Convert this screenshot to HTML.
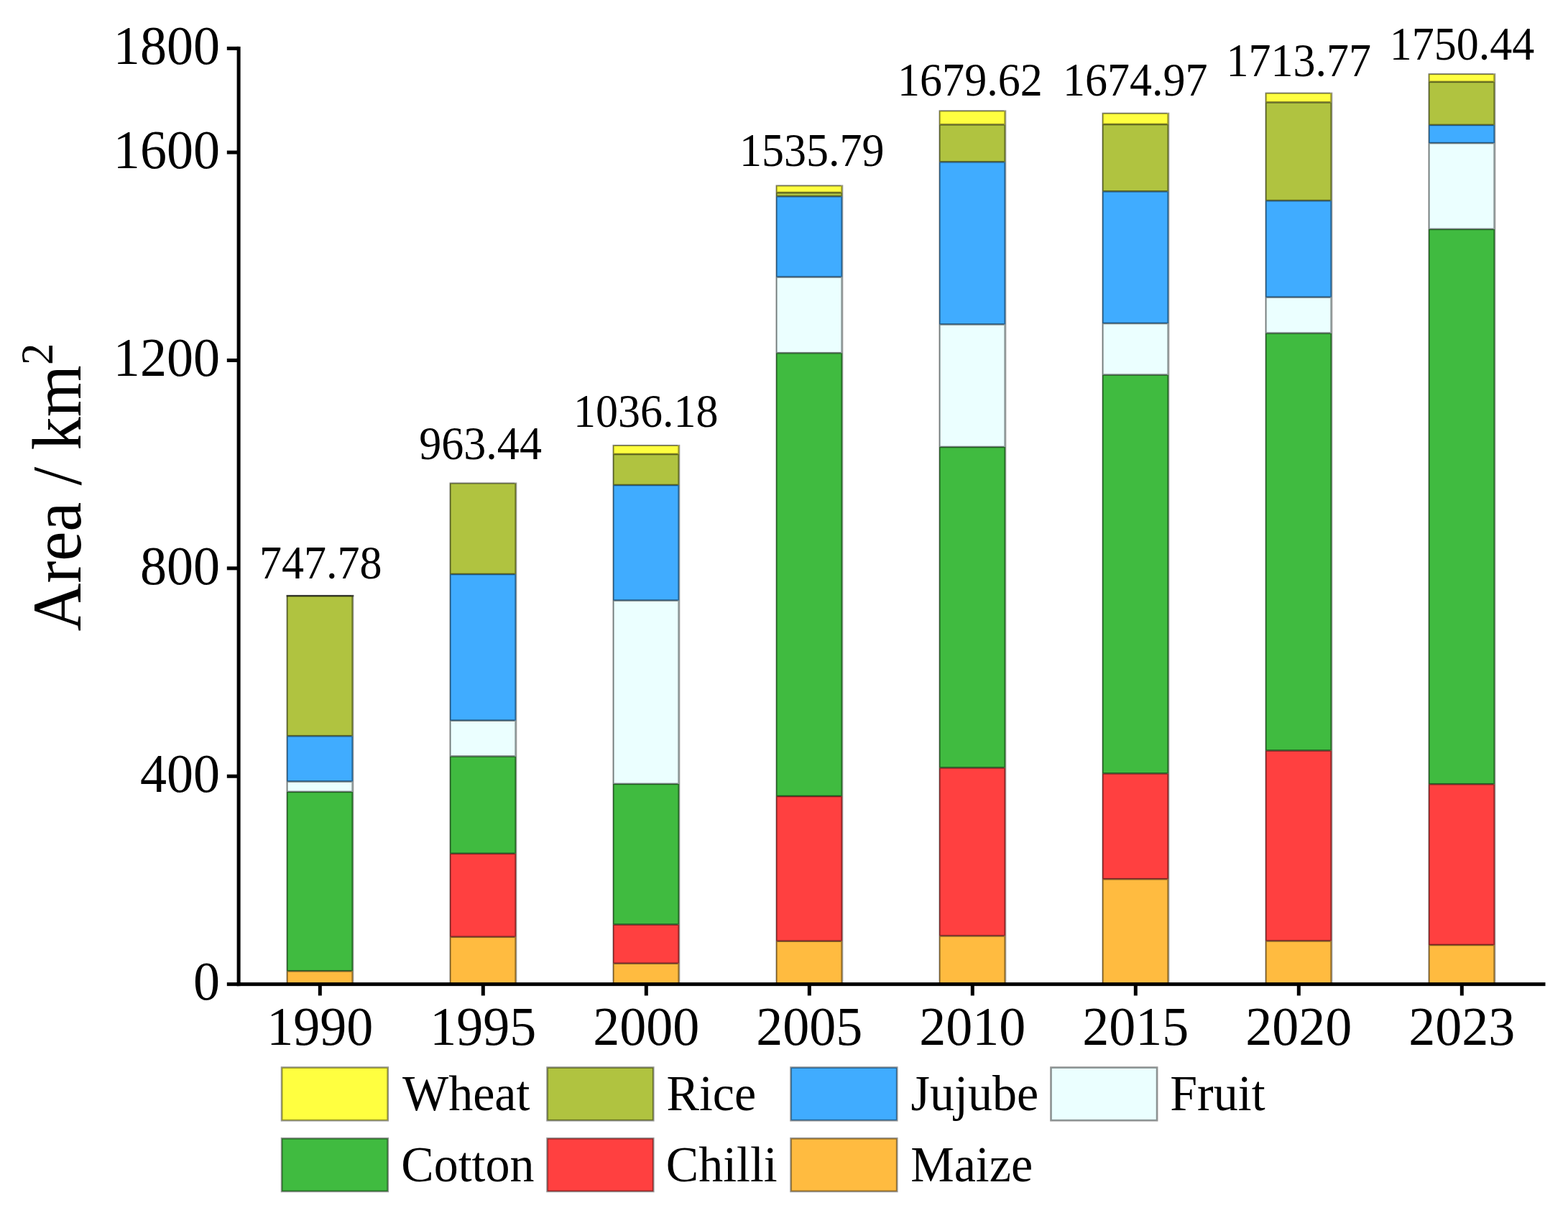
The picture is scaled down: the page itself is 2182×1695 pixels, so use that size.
<!DOCTYPE html>
<html lang="en"><head><meta charset="utf-8"><title>Area / km2 stacked bar chart</title>
<style>html,body{margin:0;padding:0;background:#fff}body{width:2182px;height:1695px;overflow:hidden}svg{display:block}text{font-family:"Liberation Serif",serif;fill:#000}</style>
</head><body>
<svg width="2182" height="1695" viewBox="0 0 2182 1695">
<rect x="0" y="0" width="2182" height="1695" fill="#fff"/>
<g>
<rect x="399.10" y="1351.30" width="92.00" height="18.35" fill="#ffbb40"/>
<rect x="399.10" y="1101.90" width="92.00" height="249.40" fill="#40bb40"/>
<rect x="399.10" y="1087.50" width="92.00" height="14.40" fill="#ebffff"/>
<rect x="399.10" y="1024.20" width="92.00" height="63.30" fill="#40acff"/>
<rect x="399.10" y="829.20" width="92.00" height="195.00" fill="#b0c340"/>
<rect x="626.10" y="1303.80" width="92.00" height="65.85" fill="#ffbb40"/>
<rect x="626.10" y="1187.80" width="92.00" height="116.00" fill="#ff4040"/>
<rect x="626.10" y="1052.50" width="92.00" height="135.30" fill="#40bb40"/>
<rect x="626.10" y="1002.70" width="92.00" height="49.80" fill="#ebffff"/>
<rect x="626.10" y="799.00" width="92.00" height="203.70" fill="#40acff"/>
<rect x="626.10" y="672.60" width="92.00" height="126.40" fill="#b0c340"/>
<rect x="853.10" y="1340.70" width="92.00" height="28.95" fill="#ffbb40"/>
<rect x="853.10" y="1286.60" width="92.00" height="54.10" fill="#ff4040"/>
<rect x="853.10" y="1090.90" width="92.00" height="195.70" fill="#40bb40"/>
<rect x="853.10" y="835.60" width="92.00" height="255.30" fill="#ebffff"/>
<rect x="853.10" y="675.00" width="92.00" height="160.60" fill="#40acff"/>
<rect x="853.10" y="632.00" width="92.00" height="43.00" fill="#b0c340"/>
<rect x="853.10" y="619.97" width="92.00" height="12.03" fill="#ffff40"/>
<rect x="1080.10" y="1309.70" width="92.00" height="59.95" fill="#ffbb40"/>
<rect x="1080.10" y="1108.00" width="92.00" height="201.70" fill="#ff4040"/>
<rect x="1080.10" y="491.20" width="92.00" height="616.80" fill="#40bb40"/>
<rect x="1080.10" y="385.50" width="92.00" height="105.70" fill="#ebffff"/>
<rect x="1080.10" y="273.20" width="92.00" height="112.30" fill="#40acff"/>
<rect x="1080.10" y="268.00" width="92.00" height="5.20" fill="#b0c340"/>
<rect x="1080.10" y="258.51" width="92.00" height="9.49" fill="#ffff40"/>
<rect x="1307.10" y="1302.40" width="92.00" height="67.25" fill="#ffbb40"/>
<rect x="1307.10" y="1068.40" width="92.00" height="234.00" fill="#ff4040"/>
<rect x="1307.10" y="622.00" width="92.00" height="446.40" fill="#40bb40"/>
<rect x="1307.10" y="451.40" width="92.00" height="170.60" fill="#ebffff"/>
<rect x="1307.10" y="225.30" width="92.00" height="226.10" fill="#40acff"/>
<rect x="1307.10" y="173.40" width="92.00" height="51.90" fill="#b0c340"/>
<rect x="1307.10" y="154.44" width="92.00" height="18.96" fill="#ffff40"/>
<rect x="1534.10" y="1223.30" width="92.00" height="146.35" fill="#ffbb40"/>
<rect x="1534.10" y="1076.40" width="92.00" height="146.90" fill="#ff4040"/>
<rect x="1534.10" y="521.60" width="92.00" height="554.80" fill="#40bb40"/>
<rect x="1534.10" y="450.00" width="92.00" height="71.60" fill="#ebffff"/>
<rect x="1534.10" y="266.30" width="92.00" height="183.70" fill="#40acff"/>
<rect x="1534.10" y="173.00" width="92.00" height="93.30" fill="#b0c340"/>
<rect x="1534.10" y="157.81" width="92.00" height="15.19" fill="#ffff40"/>
<rect x="1761.10" y="1309.40" width="92.00" height="60.25" fill="#ffbb40"/>
<rect x="1761.10" y="1044.50" width="92.00" height="264.90" fill="#ff4040"/>
<rect x="1761.10" y="463.60" width="92.00" height="580.90" fill="#40bb40"/>
<rect x="1761.10" y="413.60" width="92.00" height="50.00" fill="#ebffff"/>
<rect x="1761.10" y="279.20" width="92.00" height="134.40" fill="#40acff"/>
<rect x="1761.10" y="142.40" width="92.00" height="136.80" fill="#b0c340"/>
<rect x="1761.10" y="129.74" width="92.00" height="12.66" fill="#ffff40"/>
<rect x="1988.10" y="1315.00" width="92.00" height="54.65" fill="#ffbb40"/>
<rect x="1988.10" y="1091.20" width="92.00" height="223.80" fill="#ff4040"/>
<rect x="1988.10" y="318.90" width="92.00" height="772.30" fill="#40bb40"/>
<rect x="1988.10" y="199.10" width="92.00" height="119.80" fill="#ebffff"/>
<rect x="1988.10" y="173.90" width="92.00" height="25.20" fill="#40acff"/>
<rect x="1988.10" y="113.90" width="92.00" height="60.00" fill="#b0c340"/>
<rect x="1988.10" y="103.21" width="92.00" height="10.69" fill="#ffff40"/>
</g>
<g fill="rgba(0,0,0,0.5)">
<rect x="400.50" y="1350.00" width="88.80" height="2.60"/>
<rect x="400.50" y="1100.60" width="88.80" height="2.60"/>
<rect x="400.50" y="1086.20" width="88.80" height="2.60"/>
<rect x="400.50" y="1022.90" width="88.80" height="2.60"/>
<rect x="627.50" y="1302.50" width="88.80" height="2.60"/>
<rect x="627.50" y="1186.50" width="88.80" height="2.60"/>
<rect x="627.50" y="1051.20" width="88.80" height="2.60"/>
<rect x="627.50" y="1001.40" width="88.80" height="2.60"/>
<rect x="627.50" y="797.70" width="88.80" height="2.60"/>
<rect x="854.50" y="1339.40" width="88.80" height="2.60"/>
<rect x="854.50" y="1285.30" width="88.80" height="2.60"/>
<rect x="854.50" y="1089.60" width="88.80" height="2.60"/>
<rect x="854.50" y="834.30" width="88.80" height="2.60"/>
<rect x="854.50" y="673.70" width="88.80" height="2.60"/>
<rect x="854.50" y="630.70" width="88.80" height="2.60"/>
<rect x="1081.50" y="1308.40" width="88.80" height="2.60"/>
<rect x="1081.50" y="1106.70" width="88.80" height="2.60"/>
<rect x="1081.50" y="489.90" width="88.80" height="2.60"/>
<rect x="1081.50" y="384.20" width="88.80" height="2.60"/>
<rect x="1081.50" y="271.90" width="88.80" height="2.60"/>
<rect x="1081.50" y="266.70" width="88.80" height="2.60"/>
<rect x="1308.50" y="1301.10" width="88.80" height="2.60"/>
<rect x="1308.50" y="1067.10" width="88.80" height="2.60"/>
<rect x="1308.50" y="620.70" width="88.80" height="2.60"/>
<rect x="1308.50" y="450.10" width="88.80" height="2.60"/>
<rect x="1308.50" y="224.00" width="88.80" height="2.60"/>
<rect x="1308.50" y="172.10" width="88.80" height="2.60"/>
<rect x="1535.50" y="1222.00" width="88.80" height="2.60"/>
<rect x="1535.50" y="1075.10" width="88.80" height="2.60"/>
<rect x="1535.50" y="520.30" width="88.80" height="2.60"/>
<rect x="1535.50" y="448.70" width="88.80" height="2.60"/>
<rect x="1535.50" y="265.00" width="88.80" height="2.60"/>
<rect x="1535.50" y="171.70" width="88.80" height="2.60"/>
<rect x="1762.50" y="1308.10" width="88.80" height="2.60"/>
<rect x="1762.50" y="1043.20" width="88.80" height="2.60"/>
<rect x="1762.50" y="462.30" width="88.80" height="2.60"/>
<rect x="1762.50" y="412.30" width="88.80" height="2.60"/>
<rect x="1762.50" y="277.90" width="88.80" height="2.60"/>
<rect x="1762.50" y="141.10" width="88.80" height="2.60"/>
<rect x="1989.50" y="1313.70" width="88.80" height="2.60"/>
<rect x="1989.50" y="1089.90" width="88.80" height="2.60"/>
<rect x="1989.50" y="317.60" width="88.80" height="2.60"/>
<rect x="1989.50" y="197.80" width="88.80" height="2.60"/>
<rect x="1989.50" y="172.60" width="88.80" height="2.60"/>
<rect x="1989.50" y="112.60" width="88.80" height="2.60"/>
</g>
<g fill="rgba(0,0,0,0.52)">
<rect x="398.60" y="828.10" width="1.90" height="541.55"/>
<rect x="625.60" y="671.50" width="1.90" height="698.15"/>
<rect x="852.60" y="618.87" width="1.90" height="750.78"/>
<rect x="1079.60" y="257.41" width="1.90" height="1112.24"/>
<rect x="1306.60" y="153.34" width="1.90" height="1216.31"/>
<rect x="1533.60" y="156.71" width="1.90" height="1212.94"/>
<rect x="1760.60" y="128.64" width="1.90" height="1241.01"/>
<rect x="1987.60" y="102.11" width="1.90" height="1267.54"/>
<rect x="400.50" y="828.10" width="88.80" height="2.00"/>
<rect x="398.60" y="827.90" width="93.70" height="2.60"/>
<rect x="627.50" y="671.50" width="88.80" height="2.00"/>
<rect x="854.50" y="618.87" width="88.80" height="2.00"/>
<rect x="1081.50" y="257.41" width="88.80" height="2.00"/>
<rect x="1308.50" y="153.34" width="88.80" height="2.00"/>
<rect x="1535.50" y="156.71" width="88.80" height="2.00"/>
<rect x="1762.50" y="128.64" width="88.80" height="2.00"/>
<rect x="1989.50" y="102.11" width="88.80" height="2.00"/>
</g>
<g fill="rgba(0,0,0,0.4)">
<rect x="489.30" y="828.10" width="3.00" height="541.55"/>
<rect x="716.30" y="671.50" width="3.00" height="698.15"/>
<rect x="943.30" y="618.87" width="3.00" height="750.78"/>
<rect x="1170.30" y="257.41" width="3.00" height="1112.24"/>
<rect x="1397.30" y="153.34" width="3.00" height="1216.31"/>
<rect x="1624.30" y="156.71" width="3.00" height="1212.94"/>
<rect x="1851.30" y="128.64" width="3.00" height="1241.01"/>
<rect x="2078.30" y="102.11" width="3.00" height="1267.54"/>
</g>
<g fill="#000">
<rect x="329.60" y="64.85" width="5.00" height="1307.30"/>
<rect x="329.60" y="1367.15" width="1820.90" height="5.00"/>
<rect x="315.80" y="1367.15" width="16.30" height="5.00"/>
<rect x="315.80" y="1077.75" width="16.30" height="5.00"/>
<rect x="315.80" y="788.35" width="16.30" height="5.00"/>
<rect x="315.80" y="498.95" width="16.30" height="5.00"/>
<rect x="315.80" y="209.55" width="16.30" height="5.00"/>
<rect x="315.80" y="64.85" width="16.30" height="5.00"/>
<rect x="442.80" y="1369.65" width="5.00" height="15.85"/>
<rect x="669.80" y="1369.65" width="5.00" height="15.85"/>
<rect x="896.80" y="1369.65" width="5.00" height="15.85"/>
<rect x="1123.80" y="1369.65" width="5.00" height="15.85"/>
<rect x="1350.80" y="1369.65" width="5.00" height="15.85"/>
<rect x="1577.80" y="1369.65" width="5.00" height="15.85"/>
<rect x="1804.80" y="1369.65" width="5.00" height="15.85"/>
<rect x="2031.80" y="1369.65" width="5.00" height="15.85"/>
</g>
<text transform="translate(306.00,1391.45) scale(0.962,1)" font-size="77" text-anchor="end">0</text>
<text transform="translate(306.00,1102.05) scale(0.962,1)" font-size="77" text-anchor="end">400</text>
<text transform="translate(306.00,812.65) scale(0.962,1)" font-size="77" text-anchor="end">800</text>
<text transform="translate(306.00,523.25) scale(0.962,1)" font-size="77" text-anchor="end">1200</text>
<text transform="translate(306.00,233.85) scale(0.962,1)" font-size="77" text-anchor="end">1600</text>
<text transform="translate(306.00,89.15) scale(0.962,1)" font-size="77" text-anchor="end">1800</text>
<text transform="translate(445.30,1454.30) scale(0.962,1)" font-size="77" text-anchor="middle">1990</text>
<text transform="translate(672.30,1454.30) scale(0.962,1)" font-size="77" text-anchor="middle">1995</text>
<text transform="translate(899.30,1454.30) scale(0.962,1)" font-size="77" text-anchor="middle">2000</text>
<text transform="translate(1126.30,1454.30) scale(0.962,1)" font-size="77" text-anchor="middle">2005</text>
<text transform="translate(1353.30,1454.30) scale(0.962,1)" font-size="77" text-anchor="middle">2010</text>
<text transform="translate(1580.30,1454.30) scale(0.962,1)" font-size="77" text-anchor="middle">2015</text>
<text transform="translate(1807.30,1454.30) scale(0.962,1)" font-size="77" text-anchor="middle">2020</text>
<text transform="translate(2034.30,1454.30) scale(0.962,1)" font-size="77" text-anchor="middle">2023</text>
<text transform="translate(531.50,804.80) scale(0.962,1)" font-size="64.5" text-anchor="end">747.78</text>
<text transform="translate(753.90,638.90) scale(0.962,1)" font-size="64.5" text-anchor="end">963.44</text>
<text transform="translate(999.50,594.30) scale(0.962,1)" font-size="64.5" text-anchor="end">1036.18</text>
<text transform="translate(1230.50,230.60) scale(0.962,1)" font-size="64.5" text-anchor="end">1535.79</text>
<text transform="translate(1450.70,133.20) scale(0.962,1)" font-size="64.5" text-anchor="end">1679.62</text>
<text transform="translate(1680.50,133.20) scale(0.962,1)" font-size="64.5" text-anchor="end">1674.97</text>
<text transform="translate(1908.10,106.10) scale(0.962,1)" font-size="64.5" text-anchor="end">1713.77</text>
<text transform="translate(2135.30,82.50) scale(0.962,1)" font-size="64.5" text-anchor="end">1750.44</text>
<text transform="translate(111.5,878.5) rotate(-90) scale(0.96,1)" font-size="96.5">Area / km<tspan font-size="63" dy="-38.8">2</tspan></text>
<g stroke="rgba(0,0,0,0.42)" stroke-width="2.7">
<rect x="392.1" y="1485.6" width="147.6" height="73.6" fill="#ffff40"/>
<rect x="761.6" y="1485.6" width="147.6" height="73.6" fill="#b0c340"/>
<rect x="1100.6" y="1485.6" width="147.6" height="73.6" fill="#40acff"/>
<rect x="1462.5" y="1485.6" width="147.6" height="73.6" fill="#ebffff"/>
<rect x="392.1" y="1584.3" width="147.6" height="73.6" fill="#40bb40"/>
<rect x="761.6" y="1584.3" width="147.6" height="73.6" fill="#ff4040"/>
<rect x="1100.6" y="1584.3" width="147.6" height="73.6" fill="#ffbb40"/>
</g>
<text transform="translate(560.00,1545.20) scale(0.962,1)" font-size="70.7">Wheat</text>
<text transform="translate(927.60,1545.20) scale(0.962,1)" font-size="70.7">Rice</text>
<text transform="translate(1267.60,1545.20) scale(0.962,1)" font-size="70.7">Jujube</text>
<text transform="translate(1628.30,1545.20) scale(0.962,1)" font-size="70.7">Fruit</text>
<text transform="translate(558.30,1644.20) scale(0.962,1)" font-size="70.7">Cotton</text>
<text transform="translate(926.80,1644.20) scale(0.962,1)" font-size="70.7">Chilli</text>
<text transform="translate(1267.20,1644.20) scale(0.962,1)" font-size="70.7">Maize</text>
</svg></body></html>
